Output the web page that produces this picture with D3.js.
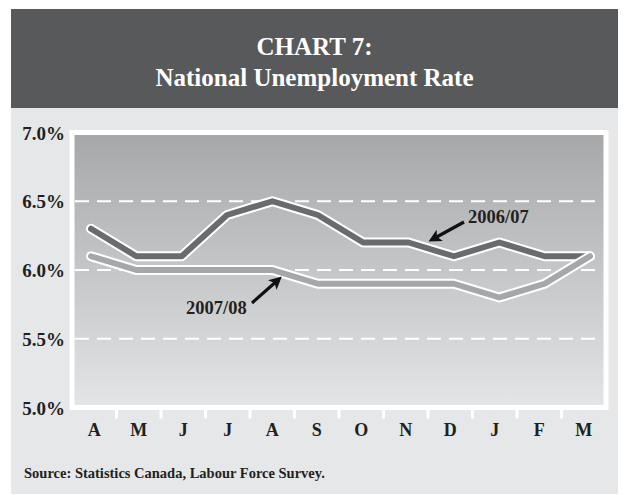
<!DOCTYPE html>
<html>
<head>
<meta charset="utf-8">
<script src="https://cdn.jsdelivr.net/npm/d3@7"></script>
<style>
  html, body { margin: 0; padding: 0; background: #ffffff; }
  svg { display: block; }
  text { font-family: "Liberation Serif", "DejaVu Serif", serif; }
</style>
</head>
<body>
<svg id="chart" width="625" height="495"></svg>
<script>
// Monthly national unemployment rate (%), April to March
const months = ["A", "M", "J", "J", "A", "S", "O", "N", "D", "J", "F", "M"];
const rate0607 = [6.3, 6.1, 6.1, 6.4, 6.5, 6.4, 6.2, 6.2, 6.1, 6.2, 6.1, 6.1];
const rate0708 = [6.1, 6.0, 6.0, 6.0, 6.0, 5.9, 5.9, 5.9, 5.9, 5.8, 5.9, 6.1];
const yTicks = [5.0, 5.5, 6.0, 6.5, 7.0];
const gridValues = [5.5, 6.0, 6.5];
const seriesNames = ["2006/07", "2007/08"];

const svg = d3.select("#chart");
const W = 625, H = 495;

// page frame
svg.append("rect").attr("width", W).attr("height", H).attr("fill", "#ffffff");
svg.append("rect").attr("x", 11).attr("y", 108).attr("width", 607).attr("height", 386)
  .attr("fill", "#e6e7e8");
svg.append("rect").attr("x", 11).attr("y", 9).attr("width", 607).attr("height", 99)
  .attr("fill", "#58595b");

// title
const title = svg.append("text").attr("text-anchor", "middle").attr("fill", "#ffffff")
  .attr("font-weight", "bold").attr("font-size", 25);
title.append("tspan").attr("x", 314.5).attr("y", 55).text("CHART 7:");
title.append("tspan").attr("x", 314.5).attr("y", 86).text("National Unemployment Rate");

// plot geometry
const plot = { left: 72, right: 606, top: 132.5, bottom: 407.5 };

const x = d3.scaleBand().domain(d3.range(months.length))
  .range([plot.left, plot.right]).paddingInner(0).paddingOuter(0);
const xLine = d3.scalePoint().domain(d3.range(months.length)).range([91, 590]);
const y = d3.scaleLinear().domain([5, 7]).range([plot.bottom, plot.top]);

// gradient plot background
const defs = svg.append("defs");
const grad = defs.append("linearGradient").attr("id", "bg").attr("x1", 0).attr("y1", 0)
  .attr("x2", 0).attr("y2", 1);
grad.append("stop").attr("offset", "0%").attr("stop-color", "#a6a7a9");
grad.append("stop").attr("offset", "100%").attr("stop-color", "#e4e5e6");

defs.append("marker").attr("id", "arrow").attr("viewBox", "0 0 10 10")
  .attr("refX", 6).attr("refY", 5).attr("markerWidth", 4).attr("markerHeight", 4)
  .attr("orient", "auto").attr("markerUnits", "strokeWidth")
  .append("path").attr("d", "M0,0 L10,5 L0,10 L2.5,5 Z").attr("fill", "#111111");

svg.append("rect")
  .attr("x", plot.left).attr("y", plot.top)
  .attr("width", plot.right - plot.left).attr("height", plot.bottom - plot.top)
  .attr("fill", "url(#bg)").attr("stroke", "#ffffff").attr("stroke-width", 5);

// dashed gridlines
svg.append("g").selectAll("line").data(gridValues).join("line")
  .attr("x1", plot.left + 3).attr("x2", plot.right - 3)
  .attr("y1", d => y(d)).attr("y2", d => y(d))
  .attr("stroke", "#ffffff").attr("stroke-width", 2.2)
  .attr("stroke-dasharray", "14,8");

// y axis labels
const yAxis = d3.axisLeft(y).tickValues(yTicks).tickSize(0).tickPadding(0)
  .tickFormat(d => d3.format(".1f")(d) + "%");
const gy = svg.append("g").attr("transform", `translate(${plot.left - 7},0)`).call(yAxis);
gy.select(".domain").remove();
gy.selectAll("text").attr("font-family", "Liberation Serif, serif")
  .attr("font-weight", "bold").attr("font-size", 19).attr("fill", "#231f20")
  .attr("dy", "0.35em");

// x axis: white ticks between months, labels centred in each band
const gx = svg.append("g");
gx.selectAll("line").data(d3.range(1, months.length)).join("line")
  .attr("x1", d => x(d)).attr("x2", d => x(d))
  .attr("y1", plot.bottom).attr("y2", plot.bottom + 11)
  .attr("stroke", "#ffffff").attr("stroke-width", 3);
gx.selectAll("text").data(months).join("text")
  .attr("x", (d, i) => x(i) + x.bandwidth() / 2).attr("y", 436)
  .attr("text-anchor", "middle").attr("font-weight", "bold").attr("font-size", 18)
  .attr("fill", "#231f20").text(d => d);

// lines with white casing
const line = d3.line().x((d, i) => xLine(i)).y(d => y(d));
const series = [
  { name: seriesNames[0], values: rate0607, color: "#6a6b6e" },
  { name: seriesNames[1], values: rate0708, color: "#a5a7aa" }
];
series.forEach(s => {
  svg.append("path").datum(s.values).attr("d", line)
    .attr("fill", "none").attr("stroke", "#ffffff").attr("stroke-width", 10)
    .attr("stroke-linejoin", "round").attr("stroke-linecap", "round");
  svg.append("path").datum(s.values).attr("d", line)
    .attr("fill", "none").attr("stroke", s.color).attr("stroke-width", 6)
    .attr("stroke-linejoin", "round").attr("stroke-linecap", "round");
});

// series annotations with arrows pointing at the lines
const notes = [
  { text: seriesNames[0], tx: 468, ty: 223, from: [464, 222], to: [433, 239] },
  { text: seriesNames[1], tx: 186, ty: 314, from: [252, 303], to: [278, 280] }
];
notes.forEach(n => {
  svg.append("line").attr("x1", n.from[0]).attr("y1", n.from[1])
    .attr("x2", n.to[0]).attr("y2", n.to[1])
    .attr("stroke", "#111111").attr("stroke-width", 3.2)
    .attr("marker-end", "url(#arrow)");
  svg.append("text").attr("x", n.tx).attr("y", n.ty)
    .attr("font-weight", "bold").attr("font-size", 18.5).attr("fill", "#231f20")
    .text(n.text);
});

// source note
svg.append("text").attr("x", 24).attr("y", 478)
  .attr("font-weight", "bold").attr("font-size", 14.5).attr("fill", "#231f20")
  .text("Source: Statistics Canada, Labour Force Survey.");
</script>
</body>
</html>
